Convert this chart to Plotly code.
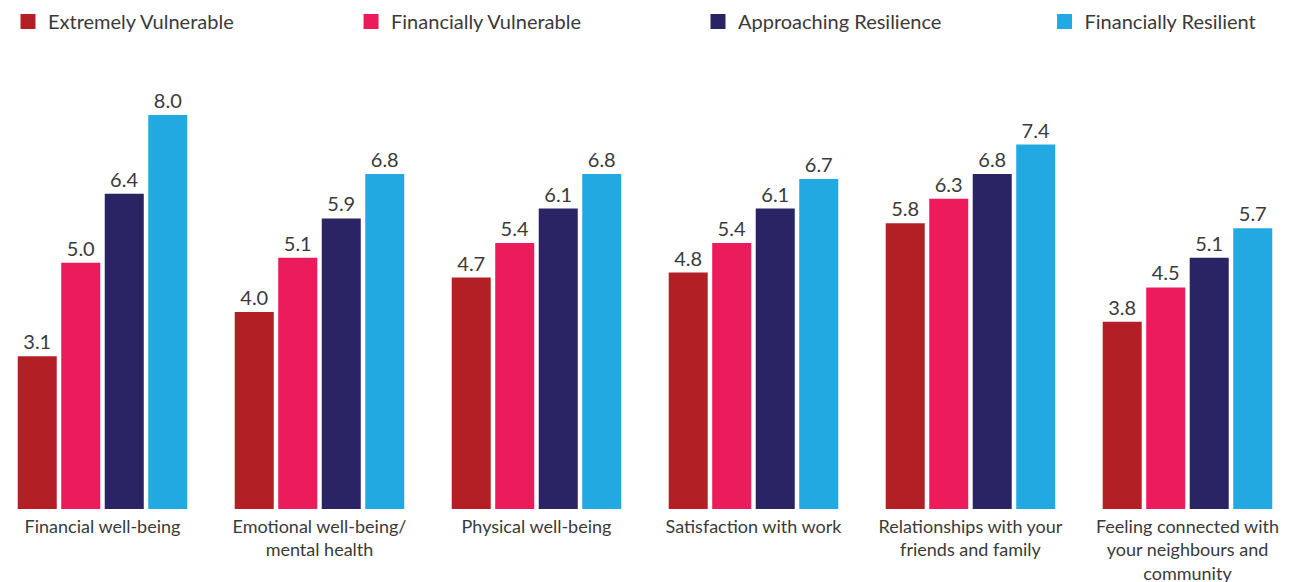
import plotly.graph_objects as go

categories = [
    "Financial well-being",
    "Emotional well-being/<br>mental health",
    "Physical well-being",
    "Satisfaction with work",
    "Relationships with your<br>friends and family",
    "Feeling connected with<br>your neighbours and<br>community",
]
series_names = ["Extremely Vulnerable", "Financially Vulnerable",
                "Approaching Resilience", "Financially Resilient"]
extremely_vulnerable = [3.1, 4.0, 4.7, 4.8, 5.8, 3.8]
financially_vulnerable = [5.0, 5.1, 5.4, 5.4, 6.3, 4.5]
approaching_resilience = [6.4, 5.9, 6.1, 6.1, 6.8, 5.1]
financially_resilient = [8.0, 6.8, 6.8, 6.7, 7.4, 5.7]
colors = ["#B22026", "#EC1C5C", "#2B2464", "#23A9E1"]

series_values = [extremely_vulnerable, financially_vulnerable,
                 approaching_resilience, financially_resilient]

FONT = "Lato"
TEXT = "#3a3a3a"

legend_ids = ["legend", "legend2", "legend3", "legend4"]
legend_x = [0.0, 0.2647, 0.5324, 0.7998]

fig = go.Figure()
for name, vals, col, lid in zip(series_names, series_values, colors, legend_ids):
    fig.add_trace(go.Bar(
        name=name, x=list(range(len(categories))), y=vals,
        marker=dict(color=col, line=dict(width=0)),
        text=[f"{v:.1f}" for v in vals], textposition="outside",
        textfont=dict(family=FONT, size=20, color=TEXT),
        cliponaxis=False, showlegend=False,
    ))
for name, col, lid in zip(series_names, colors, legend_ids):
    fig.add_trace(go.Scatter(
        name=name, x=[None], y=[None], mode="markers",
        marker=dict(symbol="square", size=15, color=col),
        legend=lid, showlegend=True, hoverinfo="skip",
    ))

legend_common = dict(orientation="h", xanchor="left", y=1.1292, yanchor="top",
                     font=dict(family=FONT, size=20, color=TEXT),
                     itemclick=False, bgcolor="rgba(0,0,0,0)")
layout_legends = {lid: dict(legend_common, x=lx) for lid, lx in zip(legend_ids, legend_x)}

fig.update_layout(
    width=1296, height=582,
    margin=dict(l=0, r=0, t=52, b=81, autoexpand=False),
    paper_bgcolor="white", plot_bgcolor="white",
    barmode="group", bargap=0.198, bargroupgap=0.103,
    font=dict(family=FONT, color=TEXT),
    xaxis=dict(tickmode="array", tickvals=list(range(len(categories))),
               ticktext=categories, range=[-0.4355, 5.537],
               showgrid=False, zeroline=False, showline=False, ticks="",
               tickfont=dict(family=FONT, size=18, color=TEXT),
               ticklabelstandoff=5, automargin=False),
    yaxis=dict(range=[0, 9.117], visible=False, automargin=False),
    showlegend=True,
    **layout_legends,
)

fig.write_html("out.html")
